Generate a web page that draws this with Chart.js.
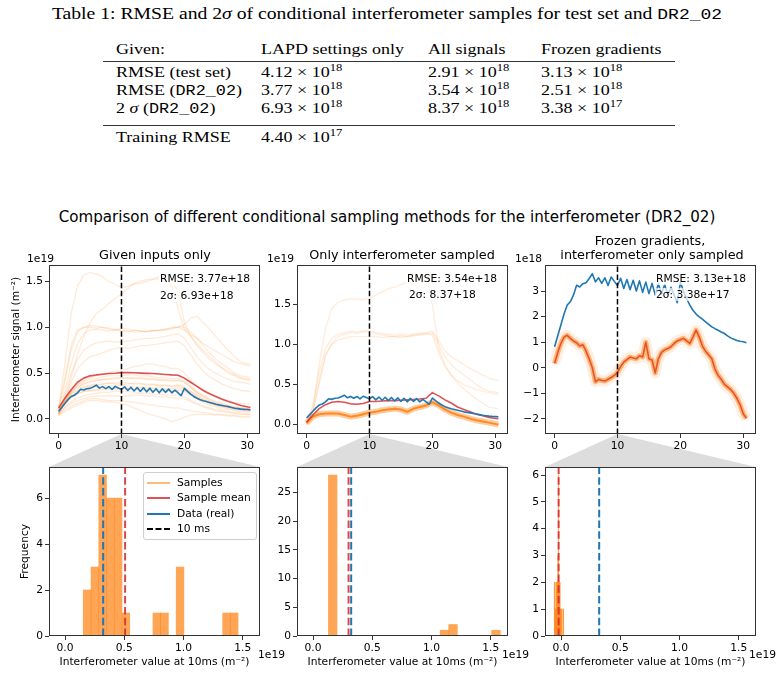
<!DOCTYPE html>
<html>
<head>
<meta charset="utf-8">
<script src="https://cdn.jsdelivr.net/npm/chart.js@4.4.1/dist/chart.umd.min.js"></script>
<style>
  body { margin: 0; background: #fff; width: 782px; height: 676px; position: relative; overflow: hidden;
         font-family: "DejaVu Sans", sans-serif; color: #000; }
  .t { position: absolute; white-space: nowrap; z-index: 3; }
  .c { transform: translate(-50%, -50%); }
  .serif { font-family: "Liberation Serif", serif; font-size: 15px; line-height: 18px;
           transform-origin: 0 50%; transform: scaleX(1.2); }
  .serif sup { font-size: 10.5px; vertical-align: 6px; line-height: 0; }
  .tt { font-family: "Liberation Mono", monospace; font-size: 14px; }
  .rule { position: absolute; left: 103px; width: 572px; height: 1.4px; background: #333; }
  .small { font-size: 10.7px; line-height: 13px; }
  .note { font-size: 10.7px; line-height: 13px; background: rgba(255,255,255,0.7); padding: 0 1px; }
  canvas { position: absolute; z-index: 1; }
  #conn { position: absolute; left: 0; top: 0; z-index: 0; }
  #legend { position: absolute; left: 143px; top: 472px; width: 112px; height: 66px; z-index: 3;
            border: 1px solid #cfcfcf; border-radius: 3px; background: rgba(255,255,255,0.8); }
  #legend .row { position: absolute; left: 0; height: 14px; width: 112px; }
  #legend .ln { position: absolute; left: 3px; width: 23px; top: 6px; height: 0; border-top: 2px solid; }
  #legend .lb { position: absolute; left: 33px; top: 0; font-size: 10.7px; line-height: 14px; }
</style>
</head>
<body>

<!-- table -->
<div class="t serif" style="left:387px;top:5px;font-size:16.4px;transform-origin:50% 50%;transform:translateX(-50%) scaleX(1.2)">Table 1: RMSE and 2<i>σ</i> of conditional interferometer samples for test set and <span class="tt" style="font-size:15px">DR2_02</span></div>

<div class="t serif" style="left:116px;top:40px">Given:</div>
<div class="t serif" style="left:261px;top:40px">LAPD settings only</div>
<div class="t serif" style="left:428px;top:40px">All signals</div>
<div class="t serif" style="left:541px;top:40px">Frozen gradients</div>
<div class="rule" style="top:60.5px"></div>

<div class="t serif" style="left:116px;top:63px">RMSE (test set)</div>
<div class="t serif" style="left:261px;top:63px">4.12 × 10<sup>18</sup></div>
<div class="t serif" style="left:428px;top:63px">2.91 × 10<sup>18</sup></div>
<div class="t serif" style="left:541px;top:63px">3.13 × 10<sup>18</sup></div>

<div class="t serif" style="left:116px;top:81px">RMSE (<span class="tt">DR2_02</span>)</div>
<div class="t serif" style="left:261px;top:81px">3.77 × 10<sup>18</sup></div>
<div class="t serif" style="left:428px;top:81px">3.54 × 10<sup>18</sup></div>
<div class="t serif" style="left:541px;top:81px">2.51 × 10<sup>18</sup></div>

<div class="t serif" style="left:116px;top:99px">2 <i>σ</i> (<span class="tt">DR2_02</span>)</div>
<div class="t serif" style="left:261px;top:99px">6.93 × 10<sup>18</sup></div>
<div class="t serif" style="left:428px;top:99px">8.37 × 10<sup>18</sup></div>
<div class="t serif" style="left:541px;top:99px">3.38 × 10<sup>17</sup></div>
<div class="rule" style="top:125px"></div>

<div class="t serif" style="left:116px;top:128px">Training RMSE</div>
<div class="t serif" style="left:261px;top:128px">4.40 × 10<sup>17</sup></div>

<!-- figure titles -->
<div class="t c" style="left:387px;top:217px;font-size:15.1px">Comparison of different conditional sampling methods for the interferometer (DR2_02)</div>
<div class="t c" style="left:155px;top:254px;font-size:12.8px">Given inputs only</div>
<div class="t c" style="left:402px;top:254px;font-size:12.8px">Only interferometer sampled</div>
<div class="t c" style="left:650px;top:240px;font-size:12.8px">Frozen gradients,</div>
<div class="t c" style="left:652px;top:254px;font-size:12.8px">interferometer only sampled</div>

<div class="t small" style="left:27px;top:252px">1e19</div>
<div class="t small" style="left:267px;top:252px">1e19</div>
<div class="t small" style="left:515px;top:252px">1e18</div>
<div class="t small" style="left:258px;top:648px">1e19</div>
<div class="t small" style="left:502px;top:648px">1e19</div>
<div class="t small" style="left:749px;top:648px">1e19</div>

<div class="t note" style="left:159px;top:272px">RMSE: 3.77e+18</div>
<div class="t note" style="left:159px;top:289px">2σ: 6.93e+18</div>
<div class="t note" style="left:406px;top:272px">RMSE: 3.54e+18</div>
<div class="t note" style="left:408px;top:288px">2σ: 8.37+18</div>
<div class="t note" style="left:655px;top:272px">RMSE: 3.13e+18</div>
<div class="t note" style="left:655px;top:288px">2σ: 3.38e+17</div>

<div id="legend">
  <div class="row" style="top:3px"><div class="ln" style="border-color:rgba(255,127,14,0.55)"></div><div class="lb">Samples</div></div>
  <div class="row" style="top:18px"><div class="ln" style="border-color:rgba(214,39,40,0.8)"></div><div class="lb">Sample mean</div></div>
  <div class="row" style="top:34px"><div class="ln" style="border-color:#1f77b4"></div><div class="lb">Data (real)</div></div>
  <div class="row" style="top:49px"><div class="ln" style="border-top:2px dashed #000"></div><div class="lb">10 ms</div></div>
</div>

<svg id="conn" width="782" height="676"></svg>

<canvas id="top1"></canvas>
<canvas id="top2"></canvas>
<canvas id="top3"></canvas>
<canvas id="hist1"></canvas>
<canvas id="hist2"></canvas>
<canvas id="hist3"></canvas>

<script>
// time grids (ms)
const sampleT = [0,1,2,3,4,5,6,7,8,9,10,11,12,13,14,15,16,17,18,19,20,21,22,23,24,25,26,27,28,29,30.5];
const fineT = [0,0.5,1,1.5,2,2.5,3,3.5,4,4.5,5,5.5,6,6.5,7,7.5,8,8.5,9,9.5,10,10.5,11,11.5,12,12.5,13,13.5,14,14.5,
  15,15.5,16,16.5,17,17.5,18,18.5,19,19.5,20,20.5,21,21.5,22,22.5,23,23.5,24,24.5,25,25.5,26,26.5,27,27.5,28,28.5,29,29.5,30,30.5];

// real interferometer signal, 1e18 m^-2 (on fineT)
const dataReal = [0.82,1.25,1.67,2.1,2.45,2.58,2.84,3.23,3.16,3.29,
  3.33,3.49,3.68,3.36,3.52,3.3,3.52,3.22,3.55,3.38,
  3.22,3.5,3.1,3.45,3.05,3.42,3.0,3.4,2.95,3.35,
  2.9,3.3,2.85,3.28,2.9,3.25,2.85,3.15,2.85,2.55,
  3.33,3.0,2.7,2.45,2.25,2.1,1.99,1.9,1.8,1.7,
  1.6,1.53,1.47,1.4,1.34,1.25,1.17,1.12,1.07,1.04,
  1.02,0.98];

// "Given inputs only": samples and mean, 1e19 m^-2 (on sampleT)
const samplesGiven = [
  [0.1,0.6,1.15,1.45,1.57,1.6,1.58,1.55,1.5,1.47,1.43,1.45,1.47,1.48,1.5,1.52,1.53,1.5,1.45,1.2,0.98,0.92,0.88,0.82,0.78,0.74,0.7,0.66,0.62,0.6,0.58],
  [0.05,0.2,0.45,0.7,0.9,1.05,1.15,1.2,1.26,1.32,1.36,1.42,1.48,1.5,1.52,1.53,1.55,1.55,1.5,1.4,1.05,0.9,0.8,0.72,0.65,0.6,0.55,0.5,0.47,0.44,0.42],
  [0.1,0.4,0.75,0.95,1.0,1.02,1.01,1.0,0.98,0.97,0.97,0.96,0.95,0.95,0.96,0.97,0.96,0.97,0.98,1.0,1.03,1.1,1.12,1.05,0.98,0.9,0.82,0.75,0.68,0.62,0.6],
  [0.12,0.45,0.8,0.97,1.0,1.0,0.99,1.0,0.99,0.98,0.96,0.95,0.97,0.96,0.95,0.96,0.97,0.98,1.0,1.0,0.97,0.9,0.82,0.75,0.68,0.62,0.56,0.52,0.48,0.45,0.43],
  [0.08,0.3,0.6,0.82,0.93,0.97,0.98,0.97,0.96,0.97,0.99,0.98,0.97,0.96,0.95,0.96,0.97,0.98,0.99,1.01,1.0,0.95,0.88,0.8,0.72,0.65,0.6,0.55,0.5,0.47,0.45],
  [0.06,0.25,0.5,0.65,0.75,0.8,0.83,0.84,0.85,0.84,0.84,0.85,0.86,0.87,0.88,0.88,0.89,0.9,0.92,0.93,0.88,0.78,0.68,0.6,0.54,0.5,0.46,0.43,0.41,0.4,0.38],
  [0.05,0.2,0.4,0.55,0.62,0.68,0.7,0.72,0.75,0.77,0.78,0.77,0.78,0.8,0.8,0.81,0.82,0.83,0.84,0.85,0.8,0.7,0.6,0.52,0.46,0.42,0.38,0.35,0.33,0.31,0.3],
  [0.05,0.18,0.3,0.38,0.42,0.45,0.47,0.49,0.5,0.52,0.52,0.55,0.57,0.58,0.6,0.6,0.58,0.57,0.55,0.55,0.5,0.42,0.36,0.32,0.28,0.25,0.22,0.2,0.18,0.17,0.16],
  [0.1,0.22,0.3,0.35,0.38,0.4,0.42,0.43,0.44,0.45,0.45,0.45,0.44,0.44,0.43,0.43,0.42,0.42,0.41,0.42,0.4,0.34,0.28,0.24,0.2,0.17,0.15,0.13,0.12,0.11,0.1],
  [0.08,0.2,0.27,0.31,0.34,0.36,0.37,0.38,0.39,0.39,0.4,0.39,0.38,0.38,0.37,0.37,0.36,0.36,0.35,0.36,0.34,0.28,0.24,0.2,0.17,0.15,0.13,0.11,0.1,0.09,0.08],
  [0.06,0.16,0.23,0.27,0.3,0.31,0.32,0.33,0.33,0.33,0.33,0.33,0.32,0.32,0.31,0.31,0.3,0.3,0.3,0.31,0.3,0.26,0.22,0.18,0.15,0.13,0.11,0.1,0.09,0.08,0.07],
  [0.05,0.13,0.19,0.23,0.25,0.27,0.28,0.29,0.29,0.3,0.3,0.3,0.29,0.28,0.28,0.27,0.27,0.26,0.26,0.26,0.24,0.2,0.17,0.14,0.12,0.1,0.09,0.08,0.07,0.06,0.05],
  [0.04,0.1,0.14,0.17,0.2,0.22,0.22,0.21,0.2,0.2,0.2,0.19,0.18,0.17,0.16,0.15,0.14,0.13,0.12,0.12,0.1,0.09,0.08,0.07,0.06,0.05,0.05,0.04,0.04,0.03,0.03],
  [0.03,0.08,0.12,0.15,0.18,0.2,0.2,0.19,0.19,0.18,0.17,0.15,0.12,0.09,0.06,0.04,0.02,0.0,-0.03,-0.01,0.02,0.04,0.05,0.05,0.05,0.04,0.04,0.03,0.03,0.02,0.02],
  [0.07,0.2,0.3,0.37,0.41,0.43,0.44,0.46,0.47,0.47,0.47,0.48,0.48,0.47,0.47,0.46,0.45,0.45,0.44,0.44,0.42,0.36,0.3,0.26,0.22,0.19,0.17,0.15,0.13,0.12,0.11],
  [0.09,0.18,0.26,0.3,0.33,0.35,0.35,0.36,0.36,0.36,0.37,0.36,0.35,0.35,0.35,0.34,0.34,0.33,0.33,0.34,0.33,0.3,0.26,0.22,0.19,0.16,0.14,0.13,0.12,0.11,0.1],
  [0.05,0.12,0.17,0.2,0.22,0.24,0.25,0.25,0.25,0.25,0.25,0.25,0.26,0.26,0.25,0.25,0.24,0.24,0.23,0.23,0.22,0.19,0.16,0.13,0.11,0.09,0.08,0.07,0.06,0.05,0.05],
  [0.08,0.17,0.24,0.28,0.3,0.31,0.31,0.32,0.32,0.32,0.32,0.33,0.33,0.34,0.33,0.33,0.32,0.32,0.31,0.32,0.31,0.27,0.23,0.2,0.17,0.15,0.13,0.12,0.11,0.1,0.09],
  [0.1,0.2,0.28,0.33,0.35,0.37,0.38,0.38,0.39,0.38,0.38,0.38,0.39,0.39,0.38,0.38,0.37,0.37,0.36,0.37,0.35,0.3,0.25,0.21,0.18,0.16,0.14,0.13,0.12,0.11,0.1],
  [0.06,0.18,0.28,0.35,0.39,0.41,0.42,0.43,0.43,0.44,0.44,0.44,0.45,0.45,0.44,0.44,0.43,0.43,0.42,0.42,0.4,0.35,0.29,0.25,0.21,0.18,0.16,0.14,0.13,0.12,0.11]
];
const meanGiven = [0.117,0.226,0.317,0.4,0.445,0.47,0.48,0.488,0.495,0.498,0.505,0.505,0.503,0.5,0.497,0.495,0.49,0.485,0.48,0.477,0.445,0.4,0.354,0.31,0.274,0.245,0.215,0.19,0.168,0.146,0.124];

// "Only interferometer sampled", 1e19 m^-2 (on sampleT)
const samplesInterfHigh = [
  [0.0,0.2,0.75,1.2,1.45,1.53,1.56,1.57,1.57,1.56,1.58,1.62,1.66,1.7,1.72,1.75,1.78,1.8,1.85,1.87,1.5,0.95,0.75,0.62,0.52,0.45,0.38,0.32,0.27,0.22,0.2],
  [0.02,0.25,0.65,0.95,1.08,1.13,1.15,1.17,1.16,1.17,1.18,1.15,1.14,1.13,1.12,1.13,1.12,1.13,1.14,1.15,1.17,1.05,0.92,0.85,0.8,0.75,0.7,0.66,0.62,0.58,0.55],
  [0.0,0.15,0.5,0.85,1.02,1.1,1.13,1.15,1.14,1.16,1.16,1.14,1.12,1.11,1.1,1.11,1.1,1.12,1.13,1.14,1.12,0.9,0.72,0.62,0.55,0.5,0.47,0.44,0.42,0.4,0.38],
  [0.01,0.18,0.55,0.88,1.0,1.06,1.08,1.1,1.1,1.1,1.1,1.1,1.09,1.1,1.1,1.09,1.1,1.11,1.12,1.13,1.15,1.0,0.85,0.75,0.68,0.62,0.56,0.5,0.45,0.42,0.4]
];
const bandInterf = [0.02,0.1,0.13,0.14,0.14,0.14,0.12,0.1,0.11,0.13,0.15,0.16,0.18,0.19,0.2,0.19,0.16,0.2,0.22,0.24,0.28,0.24,0.19,0.15,0.12,0.1,0.075,0.055,0.04,0.025,0.0];
const meanInterf = [0.03,0.12,0.2,0.25,0.28,0.29,0.28,0.26,0.255,0.265,0.29,0.29,0.295,0.3,0.3,0.305,0.31,0.315,0.32,0.33,0.4,0.36,0.31,0.27,0.22,0.19,0.16,0.13,0.11,0.09,0.075];

// "Frozen gradients": sample mean, 1e18 m^-2 (on fineT)
const meanFrozen = [0.17,0.6,0.95,1.2,1.27,1.15,1.05,0.98,0.85,0.9,
  0.65,0.35,0.0,-0.55,-0.45,-0.5,-0.52,-0.45,-0.38,-0.3,
  -0.18,0.05,0.22,0.32,0.42,0.38,0.35,0.47,0.42,1.0,
  0.35,0.3,-0.2,0.35,0.6,0.7,0.75,0.82,0.95,1.05,
  1.1,1.15,1.05,0.95,1.2,1.47,1.2,0.85,0.65,0.5,
  0.35,-0.05,-0.3,-0.45,-0.65,-0.75,-0.85,-1.0,-1.2,-1.45,
  -1.8,-1.98];

// histograms at 10 ms, 1e19 m^-2
const edgesGiven = [0.154,0.219,0.285,0.350,0.415,0.481,0.546,0.611,0.676,0.742,0.807,0.872,0.938,1.003,1.068,1.134,1.199,1.264,1.330,1.395,1.460];
const countsGiven = [2,3,7,6,6,1,0,0,0,1,1,0,3,0,0,0,0,0,1,1];
const edgesInterf = [0.130,0.2025,0.275,0.3475,0.42,0.4925,0.565,0.6375,0.71,0.7825,0.855,0.9275,1.0,1.0725,1.145,1.2175,1.29,1.3625,1.435,1.5075,1.58];
const countsInterf = [28,0,0,0,0,0,0,0,0,0,0,0,0,1,2,0,0,0,0,1];
const edgesFrozen = [-0.057,-0.0528,-0.0486,-0.0444,-0.0402,-0.036,-0.0318,-0.0276,-0.0234,-0.0192,-0.015,-0.0108,-0.0066,-0.0024,0.0018,0.006,0.0102,0.0144,0.0186,0.0228,0.027];
const countsFrozen = [2,2,1,1,2,2,2,3,6,2,2,2,1,1,1,0,0,1,1,0];
const meanAt10 = [0.507, 0.30, -0.02];
const dataAt10 = 0.322;
const cutTime = 10;

// tick labels
const topTimeTicks = [0, 10, 20, 30];
const histValueTicks = [0, 0.5, 1.0, 1.5];

const FONT = "DejaVu Sans";
const ORANGE = a => `rgba(255,127,14,${a})`;
const RED = "rgba(214,39,40,0.8)";
const BLUE = "#1f77b4";
Chart.defaults.font.family = FONT;
Chart.defaults.color = "#000";

const framePlugin = {
  id: "frame",
  afterDraw(chart) {
    const { ctx, chartArea: a } = chart;
    ctx.save();
    ctx.strokeStyle = "#333";
    ctx.lineWidth = 1;
    ctx.strokeRect(a.left + 0.5, a.top + 0.5, a.right - a.left - 1, a.bottom - a.top - 1);
    ctx.restore();
  }
};

function fmt(d) {
  return v => {
    const s = Math.abs(v).toFixed(d);
    return v < 0 ? "\u2212" + s : s;
  };
}

function axis(min, max, ticks, format, size, title) {
  return {
    type: "linear", min, max, offset: false,
    grid: { display: true, drawOnChartArea: false, drawTicks: true, tickLength: 4, color: "#333", offset: false },
    border: { display: false },
    ticks: { font: { size: 10.7 }, padding: 2, autoSkip: false, maxRotation: 0, callback: format, color: "#000" },
    title: title || { display: false },
    afterBuildTicks: s => { s.ticks = ticks.map(v => ({ value: v })); },
    afterFit: s => {
      if (s.isHorizontal()) { s.height = size; s.paddingLeft = 0; s.paddingRight = 0; }
      else { s.width = size; s.paddingTop = 0; s.paddingBottom = 0; }
    }
  };
}

// place a chart so that its plot area lands on box {x, y, w, h}
function place(id, box, yw, xh, config) {
  const pt = 4, pr = 6;
  const cv = document.getElementById(id);
  cv.width = yw + box.w + pr;
  cv.height = pt + box.h + xh;
  cv.style.left = (box.x - yw) + "px";
  cv.style.top = (box.y - pt) + "px";
  config.options.responsive = false;
  config.options.animation = false;
  config.options.events = [];
  config.options.layout = { padding: { top: pt, right: pr, left: 0, bottom: 0 } };
  config.options.plugins = { legend: { display: false }, tooltip: { enabled: false } };
  config.plugins = [framePlugin];
  const chart = new Chart(cv, config);
  chart.$off = { x: box.x - yw, y: box.y - pt };
  return chart;
}

const pts = (xs, ys, k = 1) => ys.map((y, i) => ({ x: xs[i], y: y * k }));
const line = (data, color, width, order, extra) =>
  Object.assign({ type: "line", data, borderColor: color, borderWidth: width, pointRadius: 0, fill: false,
                  tension: 0, borderJoinStyle: "round", order }, extra || {});
const vline = (x, y0, y1, color, width, dash, order) =>
  line([{ x, y: y0 }, { x, y: y1 }], color, width, order, { borderDash: dash, borderCapStyle: "butt" });
const centers = e => e.slice(0, -1).map((v, i) => (v + e[i + 1]) / 2);

const X_TOP = [-1.525, 32.025];
const X_HIST = [-0.135, 1.645];
const yTitle = (text, pad) => ({ display: true, text, font: { size: 10.7 }, color: "#000", padding: { top: pad, bottom: 0 } });
const xTitle = { display: true, text: "Interferometer value at 10ms (m\u207b\u00b2)", font: { size: 10.7 }, color: "#000",
                 padding: { top: 0, bottom: 3 } };

// ---- top row ----
const Y1 = [-0.165, 1.68];
const top1 = place("top1", { x: 49, y: 265, w: 211, h: 169 }, 49, 22, {
  type: "line",
  data: { datasets: [
    vline(cutTime, Y1[0], Y1[1], "#000", 1.5, [5.5, 2.6], 0),
    line(pts(fineT, dataReal, 0.1), BLUE, 1.6, 1),
    line(pts(sampleT, meanGiven), RED, 1.6, 2),
    ...samplesGiven.map(s => line(pts(sampleT, s), ORANGE(0.16), 1.3, 3))
  ] },
  options: { scales: {
    x: axis(X_TOP[0], X_TOP[1], topTimeTicks, fmt(0), 22),
    y: axis(Y1[0], Y1[1], [0, 0.5, 1.0, 1.5], fmt(1), 49, yTitle("Interferometer signal (m\u207b\u00b2)", 10))
  } }
});

const Y2 = [-0.117, 1.996];
const top2 = place("top2", { x: 297, y: 265, w: 211, h: 169 }, 40, 22, {
  type: "line",
  data: { datasets: [
    vline(cutTime, Y2[0], Y2[1], "#000", 1.5, [5.5, 2.6], 0),
    line(pts(fineT, dataReal, 0.1), BLUE, 1.6, 1),
    line(pts(sampleT, meanInterf), RED, 1.6, 2),
    line(pts(sampleT, bandInterf), ORANGE(0.85), 2, 3),
    line(pts(sampleT, bandInterf), ORANGE(0.4), 6, 4),
    ...samplesInterfHigh.map(s => line(pts(sampleT, s), ORANGE(0.15), 1.3, 5))
  ] },
  options: { scales: {
    x: axis(X_TOP[0], X_TOP[1], topTimeTicks, fmt(0), 22),
    y: axis(Y2[0], Y2[1], [0, 0.5, 1.0, 1.5], fmt(1), 40)
  } }
});

const Y3 = [-2.59, 4.02];
const top3 = place("top3", { x: 545, y: 265, w: 211, h: 169 }, 40, 22, {
  type: "line",
  data: { datasets: [
    vline(cutTime, Y3[0], Y3[1], "#000", 1.5, [5.5, 2.6], 0),
    line(pts(fineT, dataReal), BLUE, 1.6, 1),
    line(pts(fineT, meanFrozen), "rgba(220,50,20,0.75)", 1.6, 2),
    line(pts(fineT, meanFrozen), ORANGE(0.5), 5, 3),
    line(pts(fineT, meanFrozen), ORANGE(0.12), 11, 4)
  ] },
  options: { scales: {
    x: axis(X_TOP[0], X_TOP[1], topTimeTicks, fmt(0), 22),
    y: axis(Y3[0], Y3[1], [-2, -1, 0, 1, 2, 3], fmt(0), 40)
  } }
});

// ---- bottom row ----
function hist(id, box, yw, edges, counts, ymax, yticks, mean, ytitle) {
  const c = centers(edges);
  return place(id, box, yw, 36, {
    type: "bar",
    data: { datasets: [
      vline(dataAt10, 0, ymax, BLUE, 2, [7.5, 3.3], 0),
      vline(mean, 0, ymax, "rgba(214,39,40,0.85)", 2, [7.5, 3.3], 1),
      { type: "bar", data: c.map((x, i) => ({ x, y: counts[i] })), backgroundColor: ORANGE(0.7),
        borderWidth: 0, barPercentage: 1, categoryPercentage: 1, grouped: false, order: 3 }
    ] },
    options: { scales: {
      x: axis(X_HIST[0], X_HIST[1], histValueTicks, fmt(1), 36, xTitle),
      y: axis(0, ymax, yticks, fmt(0), yw, ytitle)
    } }
  });
}

const hist1 = hist("hist1", { x: 49, y: 467, w: 211, h: 169 }, 49, edgesGiven, countsGiven, 7.35,
  [0, 2, 4, 6], meanAt10[0], yTitle("Frequency", 19));
const hist2 = hist("hist2", { x: 297, y: 467, w: 211, h: 169 }, 40, edgesInterf, countsInterf, 29.4,
  [0, 5, 10, 15, 20, 25], meanAt10[1]);
const hist3 = hist("hist3", { x: 545, y: 467, w: 211, h: 169 }, 40, edgesFrozen, countsFrozen, 6.3,
  [0, 1, 2, 3, 4, 5, 6], meanAt10[2]);

// grey zoom wedges from the 10 ms cut to each histogram
const svg = document.getElementById("conn");
[[top1, hist1], [top2, hist2], [top3, hist3]].forEach(([t, h]) => {
  const ax = t.$off.x + t.scales.x.getPixelForValue(cutTime);
  const ay = t.$off.y + t.chartArea.bottom;
  const a = h.chartArea;
  const l = h.$off.x + a.left, r = h.$off.x + a.right, y = h.$off.y + a.top;
  const p = document.createElementNS("http://www.w3.org/2000/svg", "polygon");
  p.setAttribute("points", `${ax},${ay} ${l},${y} ${r},${y}`);
  p.setAttribute("fill", "#dddddd");
  svg.appendChild(p);
});
</script>
</body>
</html>
